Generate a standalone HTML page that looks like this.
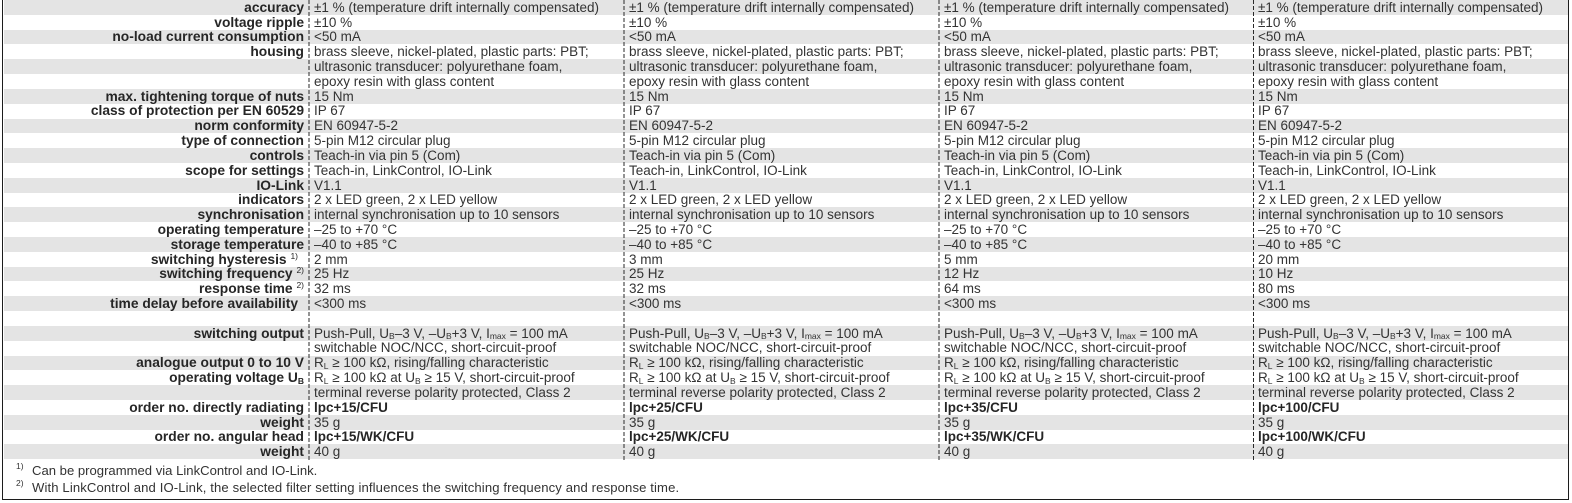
<!DOCTYPE html>
<html>
<head>
<meta charset="utf-8">
<style>
  html, body { margin:0; padding:0; }
  body { width:1572px; height:503px; overflow:hidden; background:#fff; position:relative;
         font-family:"Liberation Sans", Arial, sans-serif; color:#333; }
  .frame { position:absolute; left:2px; top:-5px; width:1567px; height:504.5px; box-sizing:border-box;
           border:1.5px solid #1c1c1c; }
  .tbl { position:absolute; left:3.5px; top:0; width:1564px; }
  .r { position:relative; height:14.82px; line-height:14.82px; font-size:13.5px; white-space:nowrap; }
  .g { background:#e4e4e4; }
  .r span { position:absolute; top:0.8px; }
  .l { left:0; width:300.5px; text-align:right; font-weight:bold; font-size:13.8px; color:#262626; }
  .c1 { left:310.5px; } .c2 { left:625.5px; } .c3 { left:940.5px; } .c4 { left:1254.5px; }
  .b { font-weight:bold; color:#262626; }
  sub { font-size:8.5px; vertical-align:baseline; position:relative; top:1.5px; }
  sup { font-size:8.5px; vertical-align:baseline; position:relative; top:-5px; font-weight:normal; }
  .fn { position:absolute; left:0; font-size:13.1px; line-height:15.7px; white-space:nowrap; color:#333; }
  .fn i { font-style:normal; position:absolute; left:16px; top:-4px; font-size:8.5px; }
  .fn b { font-weight:normal; position:absolute; left:32px; }
  svg { position:absolute; left:0; top:0; }
</style>
</head>
<body>
<div class="frame"></div>
<div class="tbl">
  <div class="r g"><span class="l">accuracy</span><span class="c1">±1 % (temperature drift internally compensated)</span><span class="c2">±1 % (temperature drift internally compensated)</span><span class="c3">±1 % (temperature drift internally compensated)</span><span class="c4">±1 % (temperature drift internally compensated)</span></div>
  <div class="r"><span class="l">voltage ripple</span><span class="c1">±10 %</span><span class="c2">±10 %</span><span class="c3">±10 %</span><span class="c4">±10 %</span></div>
  <div class="r g"><span class="l">no-load current consumption</span><span class="c1">&lt;50 mA</span><span class="c2">&lt;50 mA</span><span class="c3">&lt;50 mA</span><span class="c4">&lt;50 mA</span></div>
  <div class="r"><span class="l">housing</span><span class="c1">brass sleeve, nickel-plated, plastic parts: PBT;</span><span class="c2">brass sleeve, nickel-plated, plastic parts: PBT;</span><span class="c3">brass sleeve, nickel-plated, plastic parts: PBT;</span><span class="c4">brass sleeve, nickel-plated, plastic parts: PBT;</span></div>
  <div class="r g"><span class="c1">ultrasonic transducer: polyurethane foam,</span><span class="c2">ultrasonic transducer: polyurethane foam,</span><span class="c3">ultrasonic transducer: polyurethane foam,</span><span class="c4">ultrasonic transducer: polyurethane foam,</span></div>
  <div class="r"><span class="c1">epoxy resin with glass content</span><span class="c2">epoxy resin with glass content</span><span class="c3">epoxy resin with glass content</span><span class="c4">epoxy resin with glass content</span></div>
  <div class="r g"><span class="l">max. tightening torque of nuts</span><span class="c1">15 Nm</span><span class="c2">15 Nm</span><span class="c3">15 Nm</span><span class="c4">15 Nm</span></div>
  <div class="r"><span class="l">class of protection per EN 60529</span><span class="c1">IP 67</span><span class="c2">IP 67</span><span class="c3">IP 67</span><span class="c4">IP 67</span></div>
  <div class="r g"><span class="l">norm conformity</span><span class="c1">EN 60947-5-2</span><span class="c2">EN 60947-5-2</span><span class="c3">EN 60947-5-2</span><span class="c4">EN 60947-5-2</span></div>
  <div class="r"><span class="l">type of connection</span><span class="c1">5-pin M12 circular plug</span><span class="c2">5-pin M12 circular plug</span><span class="c3">5-pin M12 circular plug</span><span class="c4">5-pin M12 circular plug</span></div>
  <div class="r g"><span class="l">controls</span><span class="c1">Teach-in via pin 5 (Com)</span><span class="c2">Teach-in via pin 5 (Com)</span><span class="c3">Teach-in via pin 5 (Com)</span><span class="c4">Teach-in via pin 5 (Com)</span></div>
  <div class="r"><span class="l">scope for settings</span><span class="c1">Teach-in, LinkControl, IO-Link</span><span class="c2">Teach-in, LinkControl, IO-Link</span><span class="c3">Teach-in, LinkControl, IO-Link</span><span class="c4">Teach-in, LinkControl, IO-Link</span></div>
  <div class="r g"><span class="l">IO-Link</span><span class="c1">V1.1</span><span class="c2">V1.1</span><span class="c3">V1.1</span><span class="c4">V1.1</span></div>
  <div class="r"><span class="l">indicators</span><span class="c1">2 x LED green, 2 x LED yellow</span><span class="c2">2 x LED green, 2 x LED yellow</span><span class="c3">2 x LED green, 2 x LED yellow</span><span class="c4">2 x LED green, 2 x LED yellow</span></div>
  <div class="r g"><span class="l">synchronisation</span><span class="c1">internal synchronisation up to 10 sensors</span><span class="c2">internal synchronisation up to 10 sensors</span><span class="c3">internal synchronisation up to 10 sensors</span><span class="c4">internal synchronisation up to 10 sensors</span></div>
  <div class="r"><span class="l">operating temperature</span><span class="c1">–25 to +70 °C</span><span class="c2">–25 to +70 °C</span><span class="c3">–25 to +70 °C</span><span class="c4">–25 to +70 °C</span></div>
  <div class="r g"><span class="l">storage temperature</span><span class="c1">–40 to +85 °C</span><span class="c2">–40 to +85 °C</span><span class="c3">–40 to +85 °C</span><span class="c4">–40 to +85 °C</span></div>
  <div class="r"><span class="l" style="width:294.5px">switching hysteresis <sup>1)</sup></span><span class="c1">2 mm</span><span class="c2">3 mm</span><span class="c3">5 mm</span><span class="c4">20 mm</span></div>
  <div class="r g"><span class="l">switching frequency <sup>2)</sup></span><span class="c1">25 Hz</span><span class="c2">25 Hz</span><span class="c3">12 Hz</span><span class="c4">10 Hz</span></div>
  <div class="r"><span class="l">response time <sup>2)</sup></span><span class="c1">32 ms</span><span class="c2">32 ms</span><span class="c3">64 ms</span><span class="c4">80 ms</span></div>
  <div class="r g"><span class="l" style="width:294.5px">time delay before availability</span><span class="c1">&lt;300 ms</span><span class="c2">&lt;300 ms</span><span class="c3">&lt;300 ms</span><span class="c4">&lt;300 ms</span></div>
  <div class="r"></div>
  <div class="r g"><span class="l">switching output</span><span class="c1">Push-Pull, U<sub>B</sub>–3 V, –U<sub>B</sub>+3 V, I<sub>max</sub> = 100 mA</span><span class="c2">Push-Pull, U<sub>B</sub>–3 V, –U<sub>B</sub>+3 V, I<sub>max</sub> = 100 mA</span><span class="c3">Push-Pull, U<sub>B</sub>–3 V, –U<sub>B</sub>+3 V, I<sub>max</sub> = 100 mA</span><span class="c4">Push-Pull, U<sub>B</sub>–3 V, –U<sub>B</sub>+3 V, I<sub>max</sub> = 100 mA</span></div>
  <div class="r"><span class="c1">switchable NOC/NCC, short-circuit-proof</span><span class="c2">switchable NOC/NCC, short-circuit-proof</span><span class="c3">switchable NOC/NCC, short-circuit-proof</span><span class="c4">switchable NOC/NCC, short-circuit-proof</span></div>
  <div class="r g"><span class="l">analogue output 0 to 10 V</span><span class="c1">R<sub>L</sub> ≥ 100 kΩ, rising/falling characteristic</span><span class="c2">R<sub>L</sub> ≥ 100 kΩ, rising/falling characteristic</span><span class="c3">R<sub>L</sub> ≥ 100 kΩ, rising/falling characteristic</span><span class="c4">R<sub>L</sub> ≥ 100 kΩ, rising/falling characteristic</span></div>
  <div class="r"><span class="l">operating voltage U<sub>B</sub></span><span class="c1">R<sub>L</sub> ≥ 100 kΩ at U<sub>B</sub> ≥ 15 V, short-circuit-proof</span><span class="c2">R<sub>L</sub> ≥ 100 kΩ at U<sub>B</sub> ≥ 15 V, short-circuit-proof</span><span class="c3">R<sub>L</sub> ≥ 100 kΩ at U<sub>B</sub> ≥ 15 V, short-circuit-proof</span><span class="c4">R<sub>L</sub> ≥ 100 kΩ at U<sub>B</sub> ≥ 15 V, short-circuit-proof</span></div>
  <div class="r g"><span class="c1">terminal reverse polarity protected, Class 2</span><span class="c2">terminal reverse polarity protected, Class 2</span><span class="c3">terminal reverse polarity protected, Class 2</span><span class="c4">terminal reverse polarity protected, Class 2</span></div>
  <div class="r"><span class="l">order no. directly radiating</span><span class="c1 b">lpc+15/CFU</span><span class="c2 b">lpc+25/CFU</span><span class="c3 b">lpc+35/CFU</span><span class="c4 b">lpc+100/CFU</span></div>
  <div class="r g"><span class="l">weight</span><span class="c1">35 g</span><span class="c2">35 g</span><span class="c3">35 g</span><span class="c4">35 g</span></div>
  <div class="r"><span class="l">order no. angular head</span><span class="c1 b">lpc+15/WK/CFU</span><span class="c2 b">lpc+25/WK/CFU</span><span class="c3 b">lpc+35/WK/CFU</span><span class="c4 b">lpc+100/WK/CFU</span></div>
  <div class="r g"><span class="l">weight</span><span class="c1">40 g</span><span class="c2">40 g</span><span class="c3">40 g</span><span class="c4">40 g</span></div>
</div>
<svg width="1572" height="503" viewBox="0 0 1572 503">
  <g stroke="#2a2a2a" stroke-width="1" stroke-dasharray="4 2" fill="none">
    <line x1="309" y1="0" x2="309" y2="460"/>
    <line x1="624" y1="0" x2="624" y2="460"/>
    <line x1="939" y1="0" x2="939" y2="460"/>
    <line x1="1253.5" y1="0" x2="1253.5" y2="460"/>
  </g>
</svg>
<div class="fn" style="top:462.5px;"><i>1)</i><b>Can be programmed via LinkControl and IO-Link.</b></div>
<div class="fn" style="top:479.5px;"><i>2)</i><b style="letter-spacing:0.12px">With LinkControl and IO-Link, the selected filter setting influences the switching frequency and response time.</b></div>
</body>
</html>
